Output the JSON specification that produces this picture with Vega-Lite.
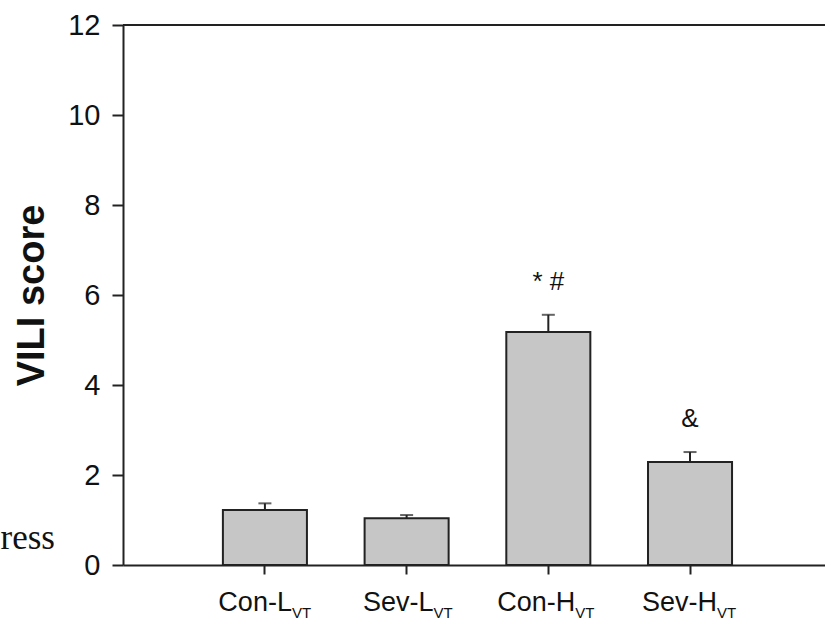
{
  "$schema": "https://vega.github.io/schema/vega-lite/v6.json",
  "width": 702,
  "height": 540,
  "autosize": {"type": "none"},
  "padding": {"left": 123, "top": 25, "right": 0, "bottom": 56},
  "background": "white",
  "config": {"view": {"stroke": null}, "font": "Liberation Sans"},
  "data": {"values": [
    {"group": "Con-L", "sub": "VT", "score": 1.22, "upper": 1.37, "note": ""},
    {"group": "Sev-L", "sub": "VT", "score": 1.04, "upper": 1.11, "note": ""},
    {"group": "Con-H", "sub": "VT", "score": 5.18, "upper": 5.56, "note": "* #"},
    {"group": "Sev-H", "sub": "VT", "score": 2.29, "upper": 2.51, "note": "&"}
  ]},
  "layer": [
    {
      "mark": {"type": "bar", "fill": "#c6c6c6", "stroke": "#222222", "strokeWidth": 2},
      "encoding": {
        "x": {
          "field": "group", "type": "nominal", "sort": null,
          "scale": {"paddingInner": 0.407, "paddingOuter": 0.6805, "align": 0.518},
          "axis": {
            "title": "ress", "titleX": -123, "titleY": -17, "titleAlign": "left",
            "titleBaseline": "alphabetic", "titleFont": "Liberation Serif", "titleFontSize": 35,
            "titleFontWeight": "normal", "titleColor": "#111111",
            "labelAngle": 0, "labelAlign": "right", "labelOffset": 27, "labelBaseline": "alphabetic",
            "labelPadding": 36, "labelFontSize": 27, "labelColor": "#111111",
            "tickSize": 9, "tickWidth": 2, "tickColor": "#222222",
            "domainColor": "#222222", "domainWidth": 2
          }
        },
        "y": {
          "field": "score", "type": "quantitative",
          "scale": {"domain": [0, 12], "nice": false},
          "axis": {
            "title": "VILI score", "titleFontSize": 38, "titleFontWeight": "bold", "titleColor": "#111111",
            "titleX": -91, "titleY": 270, "titleAngle": -90, "titleAlign": "center", "titleBaseline": "middle",
            "values": [0, 2, 4, 6, 8, 10, 12], "grid": false,
            "labelFontSize": 29, "labelPadding": 12, "labelColor": "#111111",
            "tickSize": 11, "tickWidth": 2, "tickColor": "#222222",
            "domainColor": "#222222", "domainWidth": 2
          }
        }
      }
    },
    {
      "mark": {"type": "rule", "color": "#222222", "strokeWidth": 2},
      "encoding": {
        "x": {"field": "group", "type": "nominal", "sort": null},
        "y": {"field": "score", "type": "quantitative"},
        "y2": {"field": "upper"}
      }
    },
    {
      "mark": {"type": "tick", "color": "#222222", "size": 13, "thickness": 2},
      "encoding": {
        "x": {"field": "group", "type": "nominal", "sort": null},
        "y": {"field": "upper", "type": "quantitative"}
      }
    },
    {
      "mark": {"type": "rule", "color": "#222222", "strokeWidth": 2},
      "encoding": {"y": {"datum": 12}}
    },
    {
      "mark": {"type": "text", "fontSize": 26, "baseline": "alphabetic", "dy": -25, "color": "#111111"},
      "encoding": {
        "x": {"field": "group", "type": "nominal", "sort": null},
        "y": {"field": "upper", "type": "quantitative"},
        "text": {"field": "note"}
      }
    },
    {
      "mark": {"type": "text", "fontSize": 15, "align": "left", "baseline": "alphabetic", "dx": 27, "dy": 53, "color": "#111111"},
      "encoding": {
        "x": {"field": "group", "type": "nominal", "sort": null},
        "y": {"datum": 0},
        "text": {"field": "sub"}
      }
    }
  ]
}
